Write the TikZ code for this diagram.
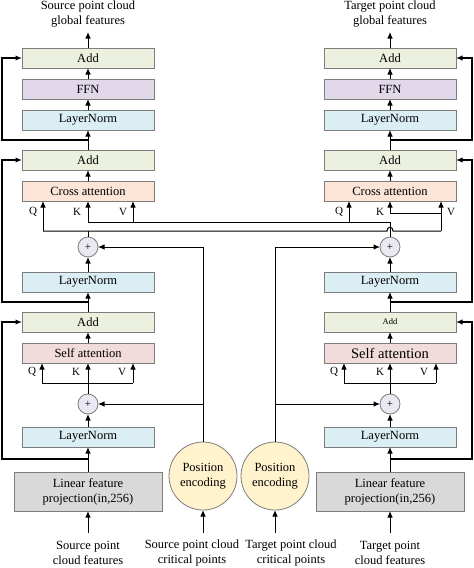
\documentclass[tikz,border=0pt]{standalone}
\usepackage{fontspec}
\setmainfont{Liberation Serif}
\usetikzlibrary{arrows.meta}
\definecolor{boxgray}{RGB}{125,125,125}
\definecolor{addc}{RGB}{235,241,222}
\definecolor{ffnc}{RGB}{225,216,234}
\definecolor{lnc}{RGB}{218,238,243}
\definecolor{cac}{RGB}{252,229,214}
\definecolor{sac}{RGB}{242,220,219}
\definecolor{linc}{RGB}{217,217,217}
\definecolor{pec}{RGB}{255,242,204}
\definecolor{plusc}{RGB}{234,232,242}
\begin{document}
\begin{tikzpicture}[x=1pt,y=-1pt,
  box/.style={draw=boxgray, line width=0.8pt, minimum width=132pt, minimum height=20pt, inner sep=0pt, outer sep=0pt, font=\fontsize{12.5}{15}\selectfont},
  addbox/.style={box, fill=addc},
  ffnbox/.style={box, fill=ffnc},
  lnbox/.style={box, fill=lnc},
  cabox/.style={box, fill=cac},
  sabox/.style={box, fill=sac},
  linbox/.style={box, fill=linc, minimum width=148pt, minimum height=39pt, align=center},
  pecirc/.style={circle, draw=boxgray, line width=0.8pt, fill=pec, minimum size=68pt, inner sep=0pt, outer sep=0pt, align=center, font=\fontsize{12.5}{15}\selectfont},
  plus/.style={circle, draw=boxgray, line width=0.8pt, fill=plusc, minimum size=20pt, inner sep=0pt, outer sep=0pt, font=\fontsize{11}{12}\selectfont},
  txt/.style={align=center, inner sep=0pt, font=\fontsize{12.5}{15}\selectfont},
  lbl/.style={inner sep=0pt, font=\fontsize{11}{12}\selectfont},
  arr/.style={-{Latex[length=6.5pt,width=5.5pt]}, line width=1pt},
  ln/.style={line width=1pt},
  res/.style={-{Latex[length=6.5pt,width=5.5pt]}, line width=1.5pt}
]
\useasboundingbox (0,0) rectangle (474,568);

% ---------- left column ----------
\node[txt] (srcout) at (88,14) {Source point cloud\\global features};
\node[addbox] (addL3) at (88,58) {Add};
\node[ffnbox] (ffnL) at (88,89) {FFN};
\node[lnbox] (lnL3) at (88,120) {LayerNorm};
\node[addbox] (addL2) at (88,160) {Add};
\node[cabox] (caL) at (88,191) {Cross attention};
\node[plus] (plusL2) at (88,247) {+};
\node[lnbox] (lnL2) at (88,282) {LayerNorm};
\node[addbox] (addL1) at (88,322) {Add};
\node[sabox] (saL) at (88,353) {Self attention};
\node[plus] (plusL1) at (88,404) {+};
\node[lnbox] (lnL1) at (88,437) {LayerNorm};
\node[linbox] (linL) at (88,491.5) {Linear feature\\projection(in,256)};
\node[txt] (srcin) at (88,553) {Source point\\cloud features};
\node[pecirc] (peL) at (203,476) {Position\\encoding};
\node[txt] (srccrit) at (192,553) {Source point cloud\\critical points};

% ---------- right column ----------
\node[txt] (tgtout) at (390,14) {Target point cloud\\global features};
\node[addbox] (addR3) at (390,58) {Add};
\node[ffnbox] (ffnR) at (390,89) {FFN};
\node[lnbox] (lnR3) at (390,120) {LayerNorm};
\node[addbox] (addR2) at (390,160) {Add};
\node[cabox] (caR) at (390,191) {Cross attention};
\node[plus] (plusR2) at (390,247) {+};
\node[lnbox] (lnR2) at (390,282) {LayerNorm};
\node[addbox, font=\fontsize{8.5}{10}\selectfont] (addR1) at (390,322) {Add};
\node[sabox, font=\fontsize{14.5}{17}\selectfont] (saR) at (390,353) {Self attention};
\node[plus] (plusR1) at (390,404) {+};
\node[lnbox] (lnR1) at (390,437) {LayerNorm};
\node[linbox] (linR) at (390,491.5) {Linear feature\\projection(in,256)};
\node[txt] (tgtin) at (390,553) {Target point\\cloud features};
\node[pecirc] (peR) at (275,476) {Position\\encoding};
\node[txt] (tgtcrit) at (291,553) {Target point cloud\\critical points};

% ---------- coordinates ----------
\coordinate (outL) at (88,32);
\coordinate (outR) at (390,32);
\coordinate (inL) at (88,533);
\coordinate (inR) at (390,533);
\coordinate (inPL) at (203,533);
\coordinate (inPR) at (275,533);
\coordinate (bL3) at (88,140);
\coordinate (bL2) at (88,302);
\coordinate (bL1) at (88,459);
\coordinate (bR3) at (390,140);
\coordinate (bR2) at (390,302);
\coordinate (bR1) at (390,459);

% ---------- main chains ----------
\draw[arr] (addL3.north) -- (outL);
\draw[arr] (ffnL) -- (addL3);
\draw[arr] (lnL3) -- (ffnL);
\draw[arr] (addL2) -- (lnL3);
\draw[arr] (caL) -- (addL2);
\draw[arr] (lnL2) -- (plusL2);
\draw[arr] (addL1) -- (lnL2);
\draw[arr] (saL) -- (addL1);
\draw[arr] (lnL1) -- (plusL1);
\draw[arr] (linL) -- (lnL1);
\draw[arr] (inL) -- (linL.south);
\draw[arr] (inPL) -- (peL.south);

\draw[arr] (addR3.north) -- (outR);
\draw[arr] (ffnR) -- (addR3);
\draw[arr] (lnR3) -- (ffnR);
\draw[arr] (addR2) -- (lnR3);
\draw[arr] (caR) -- (addR2);
\draw[arr] (lnR2) -- (plusR2);
\draw[arr] (addR1) -- (lnR2);
\draw[arr] (saR) -- (addR1);
\draw[arr] (lnR1) -- (plusR1);
\draw[arr] (linR) -- (lnR1);
\draw[arr] (inR) -- (linR.south);
\draw[arr] (inPR) -- (peR.south);

% ---------- residuals ----------
\draw[res] (bL3) -- (2,140) |- (addL3.west);
\draw[res] (bL2) -- (2,302) |- (addL2.west);
\draw[res] (bL1) -- (2,459) |- (addL1.west);
\draw[res] (bR3) -- (472,140) |- (addR3.east);
\draw[res] (bR2) -- (472,302) |- (addR2.east);
\draw[res] (bR1) -- (472,459) |- (addR1.east);

% ---------- self attention QKV ----------
\coordinate (sL) at (88,383);
\draw[ln] (plusL1.north) -- (sL);
\draw[ln] (42,383) -- (133,383);
\draw[arr] (42,383) -- (42,363);
\draw[arr] (sL) -- (saL.south);
\draw[arr] (133,383) -- (133,363);
\node[lbl] (sqL) at (32,372) {Q};
\node[lbl] (skL) at (76,372) {K};
\node[lbl] (svL) at (122,372) {V};

\coordinate (sR) at (390,383);
\draw[ln] (plusR1.north) -- (sR);
\draw[ln] (344,383) -- (436,383);
\draw[arr] (344,383) -- (344,363);
\draw[arr] (sR) -- (saR.south);
\draw[arr] (436,383) -- (436,363);
\node[lbl] (sqR) at (334,372) {Q};
\node[lbl] (skR) at (380,372) {K};
\node[lbl] (svR) at (424,372) {V};

% ---------- position encoding ----------
\draw[ln] (peL.north) -- (203,247);
\draw[arr] (203,247) -- (plusL2.east);
\draw[arr] (203,404) -- (plusL1.east);
\draw[ln] (peR.north) -- (275,247);
\draw[arr] (275,247) -- (plusR2.west);
\draw[arr] (275,404) -- (plusR1.west);

% ---------- cross attention inputs ----------
% source stream (left plus) -> left Q, right K, right V
\draw[ln] (plusL2.north) -- (88,231);
\draw[ln] (43,231) -- (387,231) .. controls (387,226) and (393,226) .. (393,231) -- (441,231);
\draw[arr] (43,231) -- (43,201);
\draw[arr] (441,231) -- (441,201);
\draw[ln] (441,213) -- (390,213);
\draw[arr] (390,213) -- (caR.south);
% target stream (right plus) -> right Q, left K, left V
\draw[ln] (plusR2.north) -- (390,222) -- (88,222);
\draw[arr] (349,222) -- (349,201);
\draw[arr] (88,222) -- (caL.south);
\draw[arr] (133,222) -- (133,201);

\node[lbl] (cqL) at (33,212) {Q};
\node[lbl] (ckL) at (77,212) {K};
\node[lbl] (cvL) at (123,212) {V};
\node[lbl] (cqR) at (339,212) {Q};
\node[lbl] (ckR) at (380,212) {K};
\node[lbl] (cvR) at (451,212) {V};
\end{tikzpicture}
\end{document}
